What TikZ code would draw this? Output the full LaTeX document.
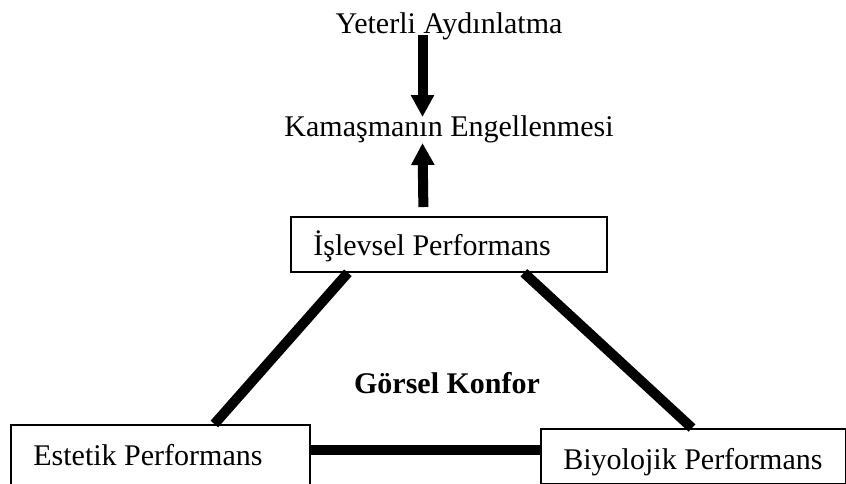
\documentclass[tikz,border=0pt]{standalone}
\usepackage{fontspec}
\setmainfont{Liberation Serif}
\usetikzlibrary{arrows.meta,calc,positioning}

\tikzset{
  perfbox/.style={rectangle, draw, line width=0.7pt, inner xsep=9pt, anchor=north west},
  fatarrow/.style={line width=4pt, -{Triangle[width=8.8pt,length=8.8pt]}},
  bar/.style={line width=4pt}
}
\newcommand{\boxtext}[2]{\makebox[#1][l]{#2}}

\begin{document}
\begin{tikzpicture}[x=0.4pt,y=-0.4pt, font=\fontsize{12}{14}\selectfont]
    \useasboundingbox (0,0) rectangle (846,483);
    % top texts
    \node(yet) [anchor=base, inner sep=0pt] at (449,33) {Yeterli Aydınlatma};
    \node(kam) [anchor=base, inner sep=0pt] at (449,136) {Kamaşmanın Engellenmesi};
    % boxes
    \node(isl) [perfbox, minimum height=22pt, text height=10pt, text depth=0.8pt] at (290,216) {\boxtext{108.4pt}{İşlevsel Performans}};
    \node(est) [perfbox, minimum height=26.4pt, text height=8pt, text depth=1.6pt] at (10,424) {\boxtext{101.6pt}{Estetik Performans}};
    \node(bio) [perfbox, minimum height=22pt, text height=11.2pt, text depth=0.4pt] at (540,428) {\boxtext{104pt}{Biyolojik Performans}};
    \node(kon) [anchor=base, font=\fontsize{12}{14}\selectfont\bfseries] at (447,393) {Görsel Konfor};
    % arrows
    \draw[fatarrow] ($(yet.base)+(-26.5,2)$) -- ($(kam.base)+(-26.5,-19)$);
    \draw[fatarrow] ($(isl.north)+(-25.5,-9)$) -- ($(kam.base)+(-26.5,7)$);
    % triangle
    \draw[bar] ($(isl.south)+(-101,0)$) -- ($(est.north)+(54,0)$);
    \draw[bar] ($(isl.south)+(75,0)$) -- ($(bio.north west)+(152,0)$);
    \draw[bar] ($(est.north east)+(0,26)$) -- ($(bio.north west)+(0,22)$);
\end{tikzpicture}
\end{document}
